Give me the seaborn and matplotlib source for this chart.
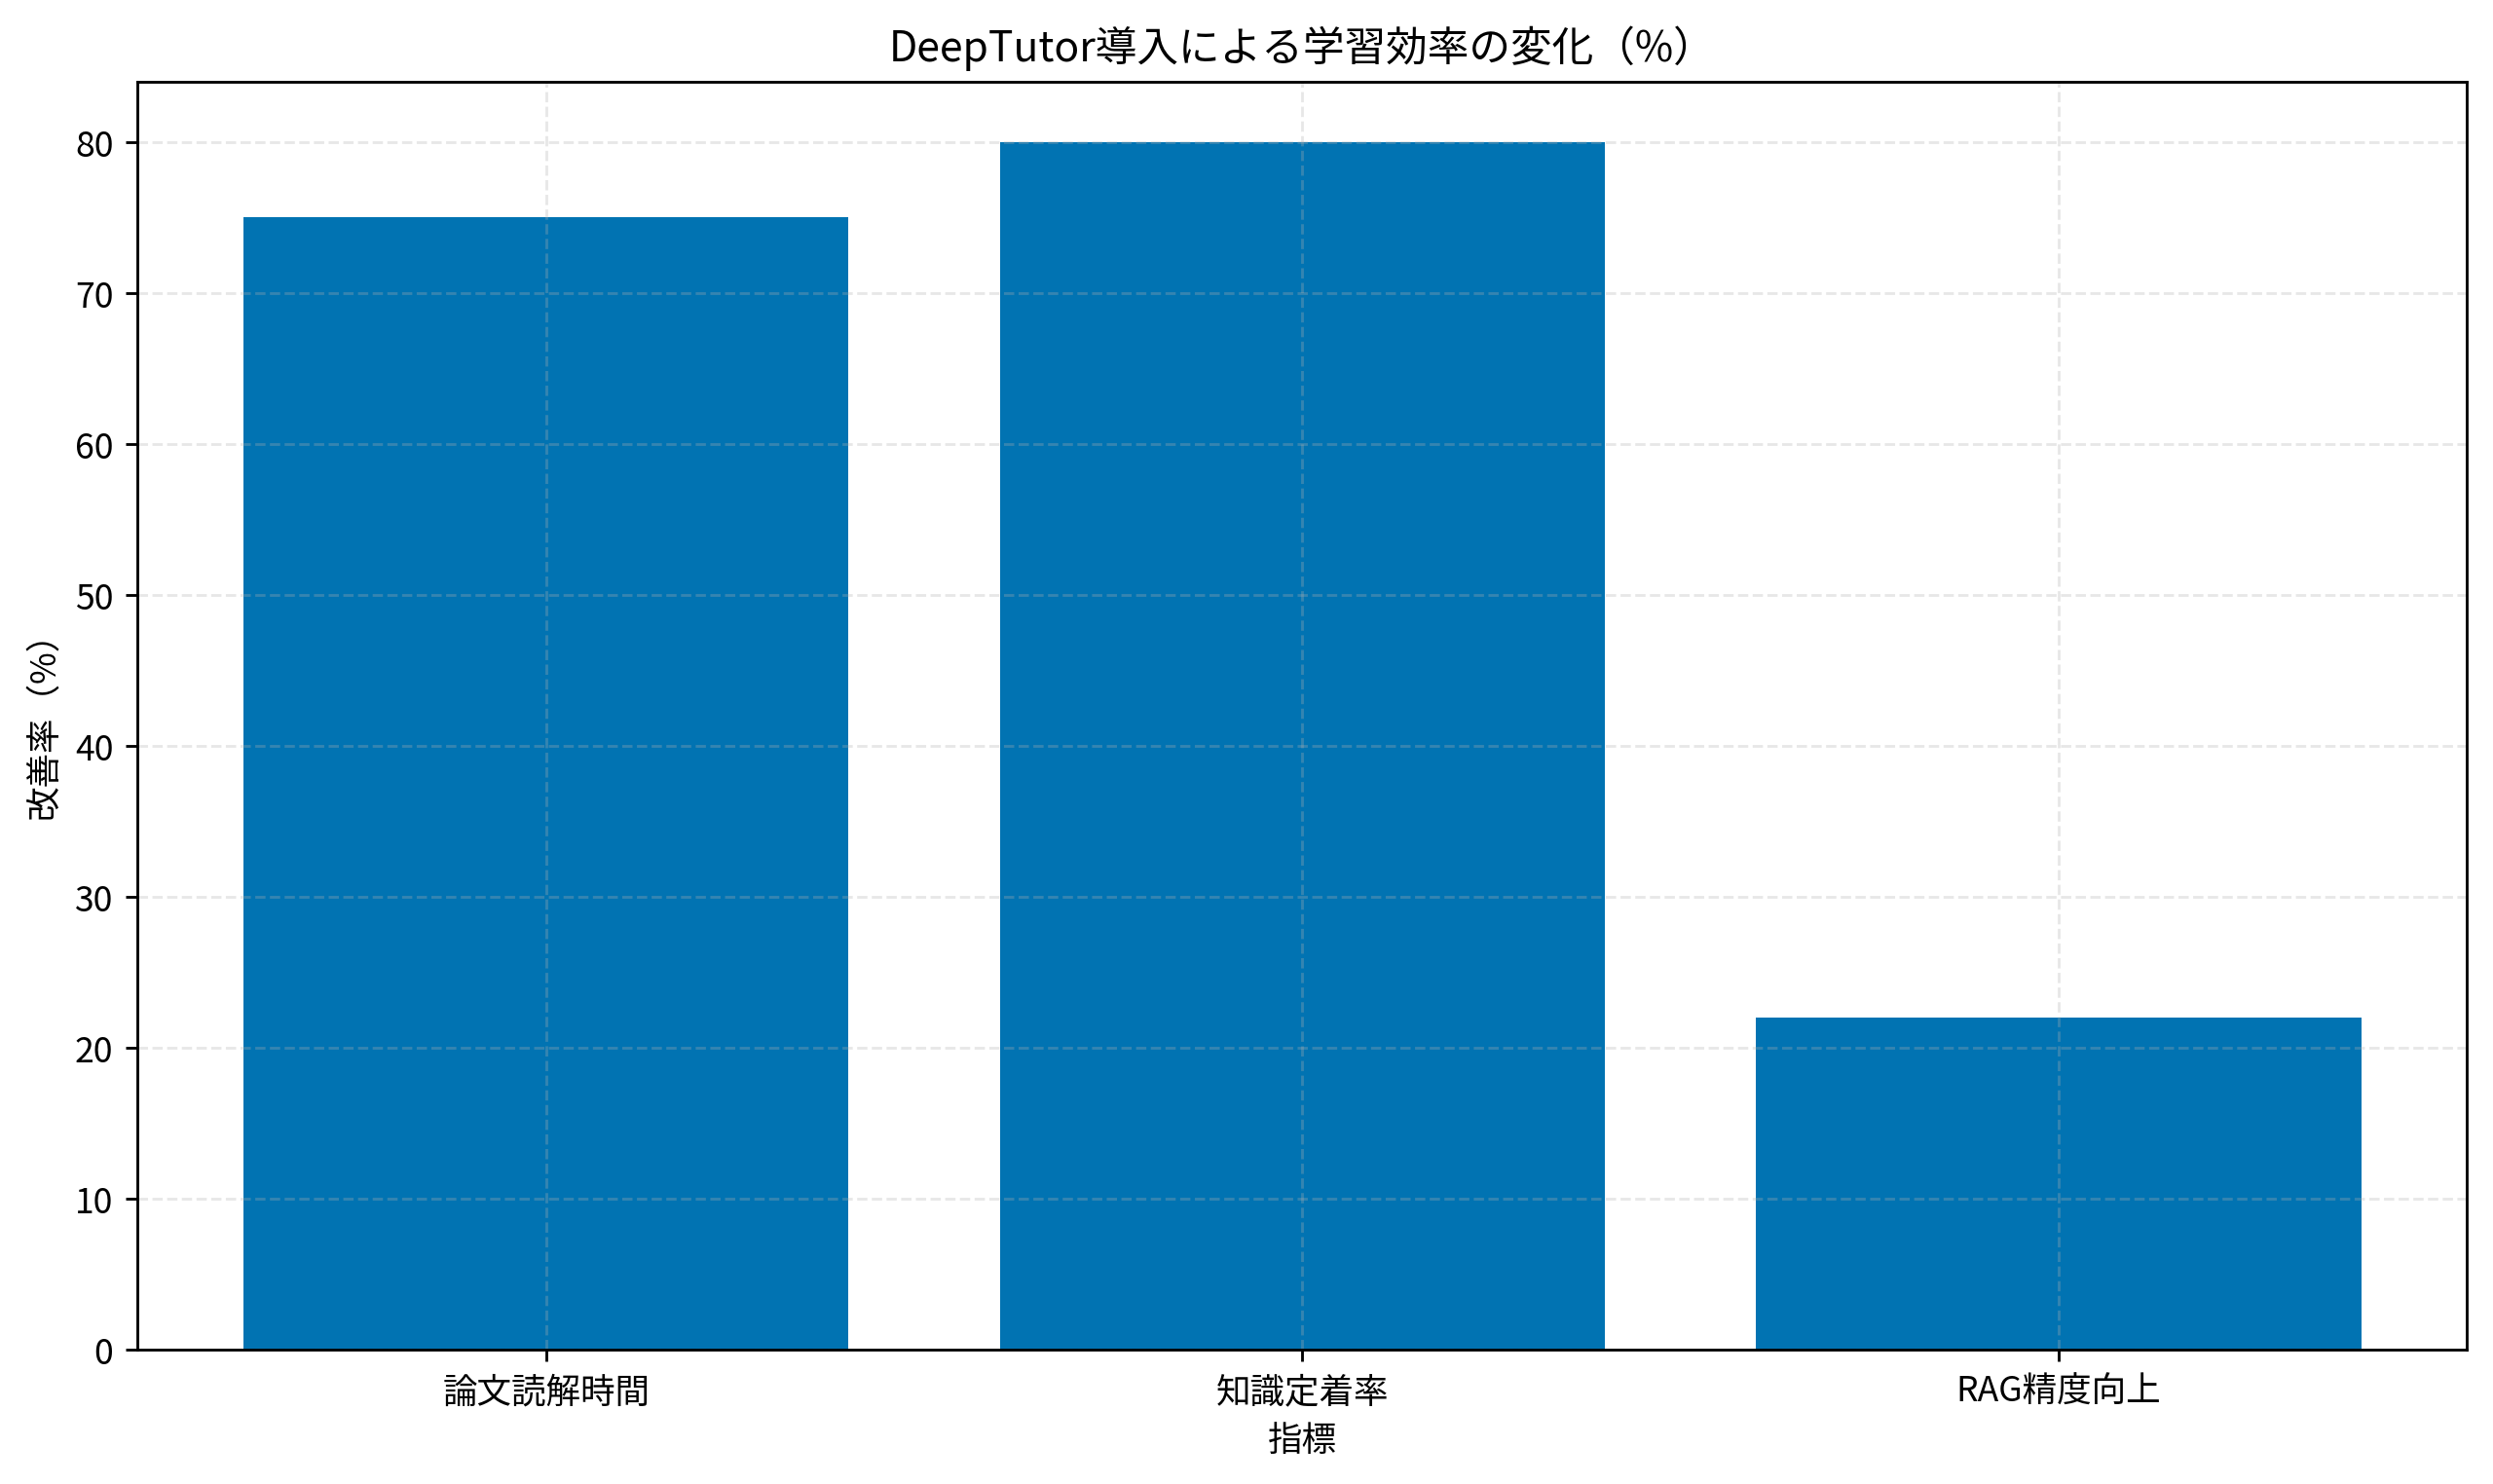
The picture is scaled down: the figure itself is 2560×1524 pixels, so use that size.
import pandas as pd
import seaborn as sns
import matplotlib
matplotlib.use('Agg')
import matplotlib.pyplot as plt

metrics = ['論文読解時間', '知識定着率', 'RAG精度向上']
improvement = [75, 80, 22]

df = pd.DataFrame({'指標': metrics, '改善率（%）': improvement})

plt.rcParams['font.family'] = ['Noto Sans CJK JP', 'DejaVu Sans']
plt.rcParams['font.size'] = 10

fig, ax = plt.subplots(figsize=(10, 5.957), dpi=256)
sns.barplot(data=df, x='指標', y='改善率（%）', color='#0173B2', saturation=1,
            width=0.8, ax=ax)
ax.set_xlim(-0.54, 2.54)
ax.set_ylim(0, 84)
ax.grid(True, linestyle='--', alpha=0.3)
ax.set_title('DeepTutor導入による学習効率の変化（%）', fontsize=12)
ax.set_xlabel('指標')
ax.set_ylabel('改善率（%）')
plt.tight_layout(pad=0.75)
plt.savefig('out.png', dpi=256)
